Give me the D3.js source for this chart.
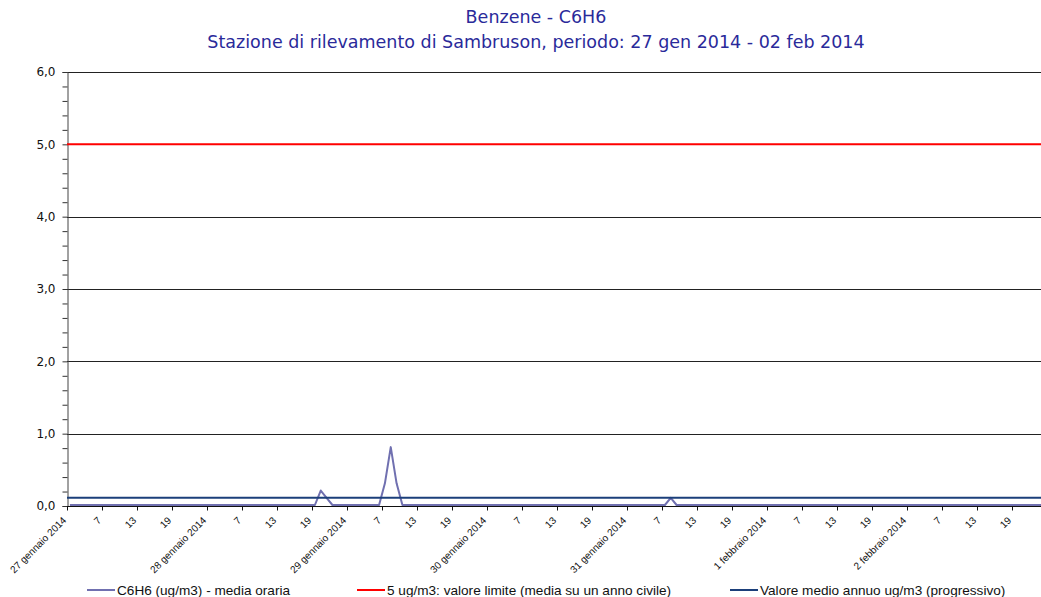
<!DOCTYPE html>
<html>
<head>
<meta charset="utf-8">
<script src="https://cdn.jsdelivr.net/npm/d3@7"></script>
<style>
  html, body { margin: 0; padding: 0; background: #fff; }
  svg { display: block; font-family: "DejaVu Sans", Verdana, sans-serif; }
</style>
</head>
<body>
<svg id="chart" width="1041" height="597"></svg>
<script>
// ---- Data ----
const dayLabels = ["27 gennaio 2014", "28 gennaio 2014", "29 gennaio 2014", "30 gennaio 2014",
                   "31 gennaio 2014", "1 febbraio 2014", "2 febbraio 2014"];
const hourLabels = ["1", "7", "13", "19"];
// hourly C6H6 (ug/m3), hours 1..24 for each day
const c6h6Day1 = [0,0,0,0,0,0,0,0,0,0,0,0,0,0,0,0,0,0,0,0,0,0,0,0];
const c6h6Day2 = [0,0,0,0,0,0,0,0,0,0,0,0,0,0,0,0,0,0,0,0.2,0.1,0,0,0];
const c6h6Day3 = [0,0,0,0,0,0,0.3,0.8,0.3,0,0,0,0,0,0,0,0,0,0,0,0,0,0,0];
const c6h6Day4 = [0,0,0,0,0,0,0,0,0,0,0,0,0,0,0,0,0,0,0,0,0,0,0,0];
const c6h6Day5 = [0,0,0,0,0,0,0,0.1,0,0,0,0,0,0,0,0,0,0,0,0,0,0,0,0];
const c6h6Day6 = [0,0,0,0,0,0,0,0,0,0,0,0,0,0,0,0,0,0,0,0,0,0,0,0];
const c6h6Day7 = [0,0,0,0,0,0,0,0,0,0,0,0,0,0,0,0,0,0,0,0,0,0,0,0];
const limitValue = 5.0;
const annualMean = 0.1;
const yMajorTicks = [0, 1, 2, 3, 4, 5, 6];
const titleLines = ["Benzene - C6H6",
  "Stazione di rilevamento di Sambruson, periodo: 27 gen 2014 - 02 feb 2014"];
const legendLabels = ["C6H6 (ug/m3)  - media oraria",
  "5 ug/m3: valore limite (media su un anno civile)",
  "Valore medio annuo ug/m3 (progressivo)"];

const c6h6 = [].concat(c6h6Day1, c6h6Day2, c6h6Day3, c6h6Day4, c6h6Day5, c6h6Day6, c6h6Day7);
const n = c6h6.length;

// ---- Layout ----
const svg = d3.select("#chart");
const mLeft = 67, mRight = 1047, mTop = 72, mBottom = 506;
const colPurple = "#7070b0", colRed = "#ff0000", colBlue = "#1b3f7a", titleCol = "#2a2a9a";

const x = d3.scaleLinear().domain([0, n]).range([mLeft, mRight]);
const y = d3.scaleLinear().domain([0, 6]).range([mBottom, mTop]);

// Title
svg.selectAll("text.title").data(titleLines).join("text")
  .attr("class", "title")
  .attr("x", 536).attr("y", (d, i) => 23 + i * 25)
  .attr("text-anchor", "middle")
  .attr("font-size", 17.5)
  .attr("fill", titleCol)
  .text(d => d);

// Gridlines (major, excluding 0)
svg.append("g").selectAll("line").data(yMajorTicks.filter(v => v > 0 && v !== limitValue)).join("line")
  .attr("x1", mLeft).attr("x2", 1041)
  .attr("y1", d => Math.round(y(d)) + 0.5).attr("y2", d => Math.round(y(d)) + 0.5)
  .attr("stroke", "#222").attr("stroke-width", 1);

// Y axis major
const yAxis = d3.axisLeft(y).tickValues(yMajorTicks).tickSize(5).tickPadding(7)
  .tickFormat(d => d3.format(".1f")(d).replace(".", ","));
const gy = svg.append("g").attr("transform", `translate(${mLeft + 0.5},0)`).call(yAxis);
gy.select(".domain").attr("stroke", "#444");
gy.selectAll(".tick line").attr("stroke", "#333");
gy.selectAll(".tick text").attr("font-size", 12).attr("font-family", "DejaVu Sans, sans-serif").attr("fill", "#111");
// Y minor ticks
const yMinor = d3.range(0, 6.001, 0.2).filter(v => Math.abs(v - Math.round(v)) > 0.01);
svg.append("g").attr("transform", `translate(${mLeft + 0.5},0)`)
  .call(d3.axisLeft(y).tickValues(yMinor).tickSize(5).tickFormat(""))
  .call(g => g.select(".domain").remove())
  .selectAll(".tick line").attr("stroke", "#333");

// C6H6 line
const line = d3.line().x((d, i) => x(i + 0.5)).y(d => y(d) - 1);
svg.append("path").datum(c6h6)
  .attr("d", line).attr("fill", "none")
  .attr("stroke", colPurple).attr("stroke-width", 2).attr("stroke-linejoin", "round");

// Limit line
svg.append("line")
  .attr("x1", mLeft).attr("x2", 1041)
  .attr("y1", y(limitValue)).attr("y2", y(limitValue))
  .attr("stroke", colRed).attr("stroke-width", 2);

// Annual mean line
svg.append("line")
  .attr("x1", mLeft).attr("x2", 1041)
  .attr("y1", y(annualMean) - 1).attr("y2", y(annualMean) - 1)
  .attr("stroke", colBlue).attr("stroke-width", 2);

// X axis
const xTickVals = d3.range(0, n, 6);
const xLabel = i => (i % 24 === 0) ? dayLabels[i / 24] : hourLabels[(i % 24) / 6];
const xAxis = d3.axisBottom(x).tickValues(xTickVals).tickSize(4).tickFormat(xLabel);
const gx = svg.append("g").attr("transform", `translate(0,${mBottom + 0.5})`).call(xAxis);
gx.select(".domain").attr("stroke", "#111").attr("d", `M${mLeft},0H${mRight}`);
gx.selectAll(".tick line").attr("stroke", "#111");
gx.selectAll(".tick text")
  .attr("font-size", 10).attr("font-family", "Liberation Sans, Arial, sans-serif")
  .attr("fill", "#111")
  .attr("text-anchor", "end")
  .attr("dy", "0.35em")
  .attr("transform", "translate(-3,12) rotate(-45)")
  .attr("y", 0).attr("x", 0);

// Legend
const legendItems = [
  { label: legendLabels[0], color: colPurple, x: 87 },
  { label: legendLabels[1], color: colRed, x: 357 },
  { label: legendLabels[2], color: colBlue, x: 730 }
];
const lg = svg.append("g").selectAll("g").data(legendItems).join("g")
  .attr("transform", d => `translate(${d.x},590)`);
lg.append("line").attr("x1", 0).attr("x2", 28).attr("y1", 0).attr("y2", 0)
  .attr("stroke", d => d.color).attr("stroke-width", 2);
lg.append("text").attr("x", 30).attr("y", 5)
  .attr("font-size", 13.6).attr("font-family", "Liberation Sans, Arial, sans-serif")
  .attr("fill", "#111")
  .text(d => d.label);
</script>
</body>
</html>
